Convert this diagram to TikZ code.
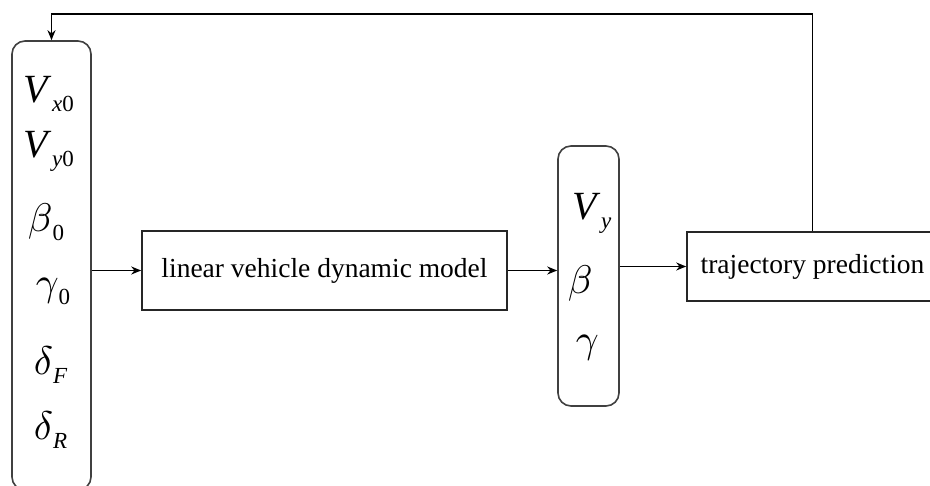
\documentclass[tikz,border=0pt]{standalone}
\usepackage{graphicx}
\usepackage{fontspec}
\setmainfont{Liberation Serif}
\usetikzlibrary{arrows.meta}
\newcommand\vsub[2]{{\itshape #1}\raisebox{-9pt}{\fontsize{23}{23}\selectfont #2}}
\newcommand\gk[1]{\scalebox{4}{\normalsize$#1$}}
\begin{document}
\begin{tikzpicture}[x=1pt,y=-1pt,>={Stealth[length=10pt,width=8pt]},line width=1.6pt,
  rbox/.style={draw=black!75,rounded corners=13pt,inner sep=0pt},
  sbox/.style={draw=black!85,inner sep=0pt,font=\fontsize{27.5}{30}\selectfont},
  sym/.style={anchor=base west,inner sep=0pt,font=\fontsize{40}{40}\selectfont}]
\useasboundingbox (0,0) rectangle (930,486);
% initial state
\node[rbox,minimum width=79pt,minimum height=449pt] (in) at (51.5,265.5) {};
\node[sym] (vx) at (23,103) {\vsub{V}{\,\itshape x\upshape 0}};
\node[sym] (vy) at (23,158) {\vsub{V}{\,\itshape y\upshape 0}};
\node[sym] (b0) at (27,232) {\vsub{\gk\beta}{0}};
\node[sym] (g0) at (35,296) {\vsub{\gk\gamma}{0}};
\node[sym] (dF) at (33,375) {\vsub{\gk\delta}{\itshape F}};
\node[sym] (dR) at (33,440) {\vsub{\gk\delta}{\itshape R}};
% model and outputs
\node[sbox,minimum width=365pt,minimum height=79pt] (model) at (324.5,270.5) {linear vehicle dynamic model};
\node[rbox,minimum width=61pt,minimum height=260pt] (out) at (588.5,276) {};
\node[sym] (Vy) at (572,220) {\vsub{V}{\,\itshape y}};
\node[sym] (b) at (567,294) {\gk\beta};
\node[sym] (g) at (575,353) {\gk\gamma};
\node[sbox,minimum width=251pt,minimum height=69pt] (traj) at (812.5,266.5) {trajectory prediction};
\coordinate (top) at (0,14);
\draw[->] (in.east |- model) -- (model);
\draw[->] (model) -- (model -| out.west);
\draw[->] (out.east |- traj) -- (traj);
\draw[->] (traj.north) -- (traj.north |- top) -| (in.north);
\end{tikzpicture}
\end{document}
